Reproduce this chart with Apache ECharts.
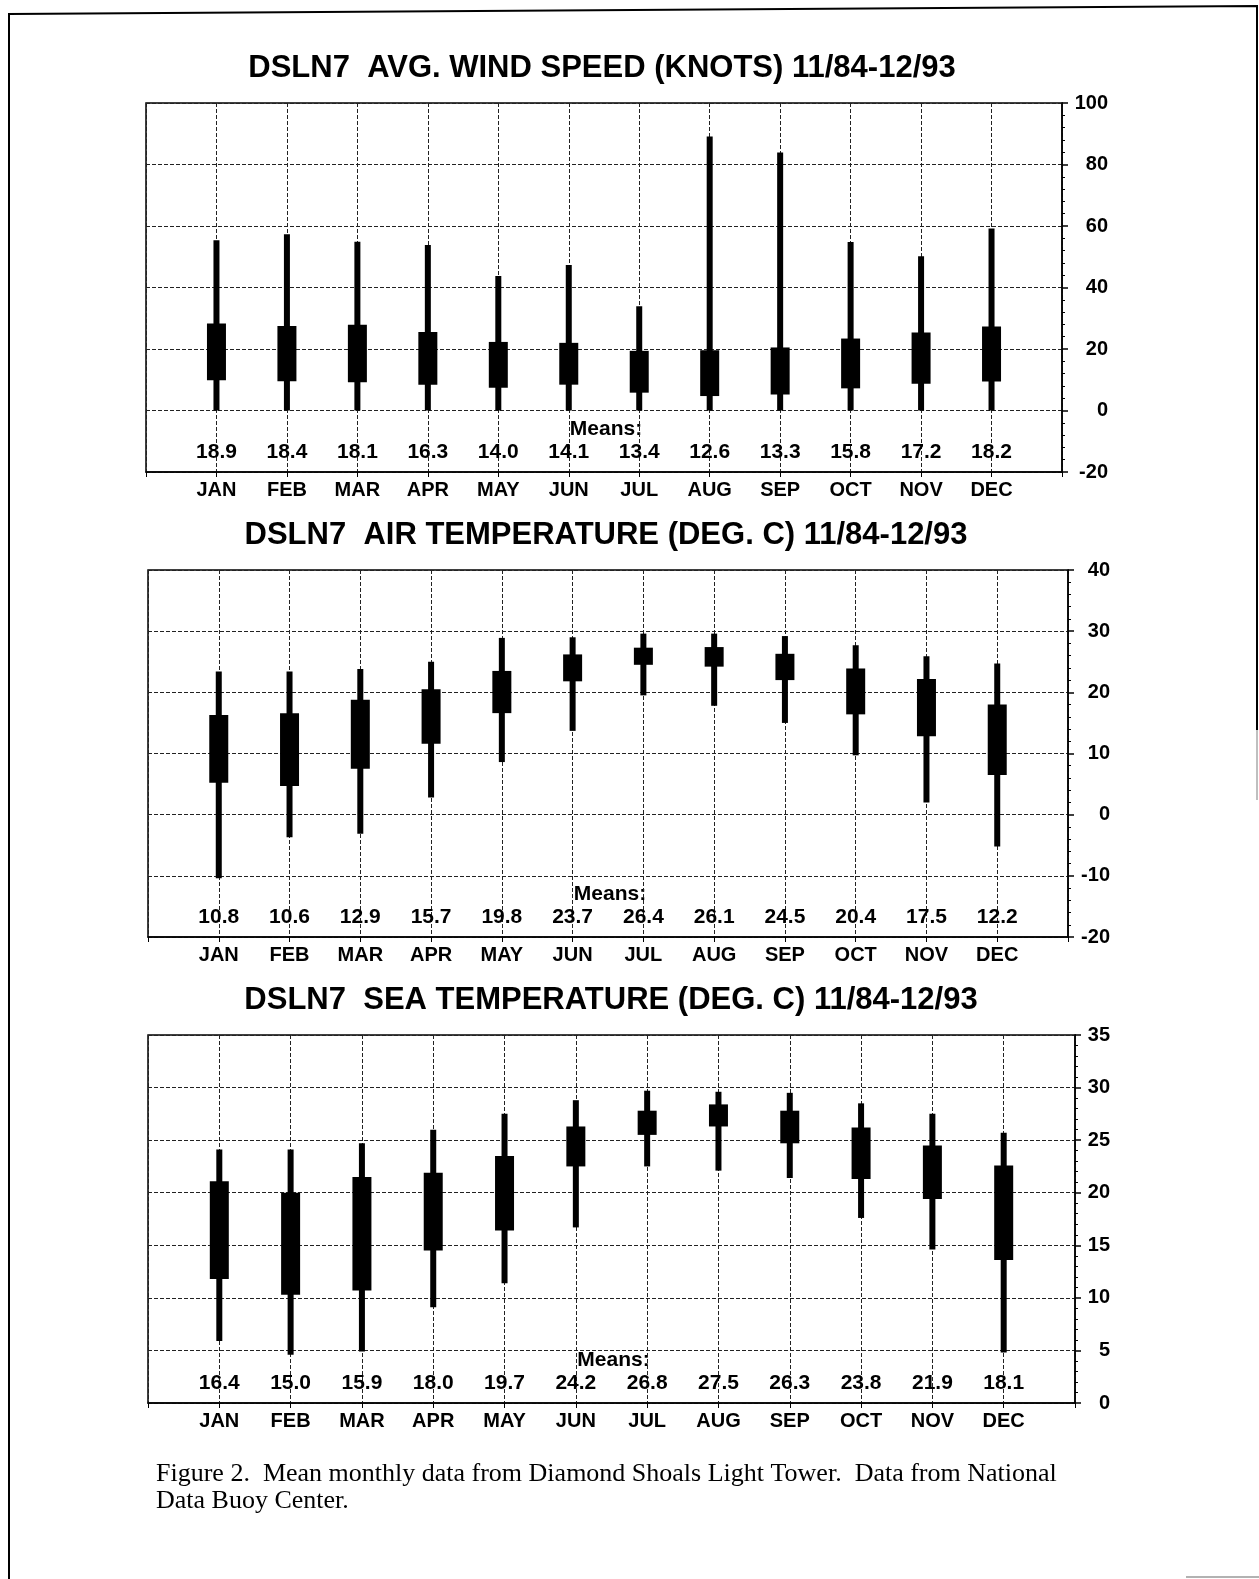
<!DOCTYPE html>
<html><head><meta charset="utf-8">
<script src="https://cdn.jsdelivr.net/npm/echarts@6/dist/echarts.min.js"></script>
<style>html,body{margin:0;padding:0;background:#fff}#c{width:1259px;height:1579px}</style>
</head><body><div id="c"></div><script>
const months = ['JAN','FEB','MAR','APR','MAY','JUN','JUL','AUG','SEP','OCT','NOV','DEC'];

const titles = [
  'DSLN7  AVG. WIND SPEED (KNOTS) 11/84-12/93',
  'DSLN7  AIR TEMPERATURE (DEG. C) 11/84-12/93',
  'DSLN7  SEA TEMPERATURE (DEG. C) 11/84-12/93'
];

// Wind speed (knots)
const windMin   = [0, 0, 0, 0, 0, 0, 0, 0, 0, 0, 0, 0];
const windQ1    = [9.8, 9.5, 9.2, 8.4, 7.4, 8.4, 5.8, 4.7, 5.2, 7.2, 8.7, 9.4];
const windQ3    = [28.3, 27.5, 27.9, 25.5, 22.3, 22.0, 19.4, 19.6, 20.5, 23.4, 25.4, 27.3];
const windMax   = [55.4, 57.3, 54.9, 53.8, 43.7, 47.3, 33.9, 89.1, 83.9, 54.8, 50.2, 59.2];
const windMeans = [18.9, 18.4, 18.1, 16.3, 14.0, 14.1, 13.4, 12.6, 13.3, 15.8, 17.2, 18.2];
const windTicks = [-20, 0, 20, 40, 60, 80, 100];

// Air temperature (deg C)
const airMin   = [-10.4, -3.7, -3.1, 2.8, 8.6, 13.7, 19.5, 17.8, 15.0, 9.7, 2.0, -5.2];
const airQ1    = [5.2, 4.7, 7.5, 11.6, 16.6, 21.8, 24.5, 24.2, 22.0, 16.4, 12.8, 6.5];
const airQ3    = [16.3, 16.6, 18.8, 20.5, 23.5, 26.2, 27.3, 27.4, 26.3, 23.9, 22.2, 18.0];
const airMax   = [23.4, 23.4, 23.8, 25.0, 28.9, 29.0, 29.6, 29.6, 29.2, 27.7, 25.9, 24.7];
const airMeans = [10.8, 10.6, 12.9, 15.7, 19.8, 23.7, 26.4, 26.1, 24.5, 20.4, 17.5, 12.2];
const airTicks = [-20, -10, 0, 10, 20, 30, 40];

// Sea temperature (deg C)
const seaMin   = [5.9, 4.6, 4.9, 9.1, 11.4, 16.7, 22.5, 22.1, 21.4, 17.6, 14.6, 4.8];
const seaQ1    = [11.8, 10.3, 10.7, 14.5, 16.4, 22.5, 25.5, 26.3, 24.7, 21.3, 19.4, 13.6];
const seaQ3    = [21.1, 20.0, 21.5, 21.9, 23.5, 26.3, 27.8, 28.4, 27.8, 26.2, 24.5, 22.6];
const seaMax   = [24.1, 24.1, 24.7, 26.0, 27.5, 28.8, 29.7, 29.6, 29.5, 28.5, 27.5, 25.7];
const seaMeans = [16.4, 15.0, 15.9, 18.0, 19.7, 24.2, 26.8, 27.5, 26.3, 23.8, 21.9, 18.1];
const seaTicks = [0, 5, 10, 15, 20, 25, 30, 35];

const meansLabel = 'Means:';
const caption1 = 'Figure 2.  Mean monthly data from Diamond Shoals Light Tower.  Data from National';
const caption2 = 'Data Buoy Center.';

const SANS = '"Liberation Sans", Arial, Helvetica, sans-serif';
const SERIF = '"Liberation Serif", "Times New Roman", serif';

const sets = [
  {min: windMin, q1: windQ1, q3: windQ3, max: windMax, means: windMeans, ticks: windTicks},
  {min: airMin, q1: airQ1, q3: airQ3, max: airMax, means: airMeans, ticks: airTicks},
  {min: seaMin, q1: seaQ1, q3: seaQ3, max: seaMax, means: seaMeans, ticks: seaTicks}
];

// layout (pixels)
const layouts = [
  {left: 146, top: 103, width: 916, height: 369, labelMargin: 46, titleX: 602, titleY: 68},
  {left: 148, top: 570, width: 920, height: 367, labelMargin: 42, titleX: 606, titleY: 535},
  {left: 148, top: 1035, width: 927, height: 368, labelMargin: 35, titleX: 611, titleY: 1000}
];

const grids = [], xAxes = [], yAxes = [], series = [], graphics = [];
const dash = {color: '#222', width: 1, type: [4, 2]};

sets.forEach((s, k) => {
  const L = layouts[k];
  grids.push({left: L.left, top: L.top, width: L.width, height: L.height,
    show: true, borderColor: '#000', borderWidth: 1.5, backgroundColor: 'transparent'});
  xAxes.push({
    gridIndex: k, type: 'value', min: 0, max: months.length + 1, interval: 1,
    position: 'bottom',
    axisLine: {show: true, onZero: false, lineStyle: {color: '#000', width: 1.5}},
    axisTick: {show: true, length: 5, lineStyle: {color: '#000', width: 1}},
    axisLabel: {show: true, margin: 8, color: '#000', fontFamily: SANS, fontWeight: 'bold', fontSize: 20,
      formatter: v => months[v - 1] || ''},
    splitLine: {show: true, lineStyle: dash}
  });
  const t = s.ticks;
  yAxes.push({
    gridIndex: k, type: 'value', position: 'right',
    min: t[0], max: t[t.length - 1], interval: t[1] - t[0],
    axisLine: {show: true, onZero: false, lineStyle: {color: '#000', width: 1.5}},
    axisTick: {show: true, inside: false, length: 6, lineStyle: {color: '#000', width: 1.5}},
    minorTick: {show: true, splitNumber: 5, length: 3, lineStyle: {color: '#000', width: 1}},
    axisLabel: {show: true, margin: L.labelMargin, align: 'right', color: '#000',
      fontFamily: SANS, fontWeight: 'bold', fontSize: 20},
    splitLine: {show: true, lineStyle: dash}
  });
  const data = months.map((m, i) => [i + 1, s.min[i], s.q1[i], s.q3[i], s.max[i]]);
  series.push({
    type: 'custom', xAxisIndex: k, yAxisIndex: k, name: titles[k],
    encode: {x: 0, y: [1, 2, 3, 4]},
    data: data,
    renderItem: (params, api) => {
      const x = api.value(0);
      const pLo = api.coord([x, api.value(1)]);
      const pQ1 = api.coord([x, api.value(2)]);
      const pQ3 = api.coord([x, api.value(3)]);
      const pHi = api.coord([x, api.value(4)]);
      return {type: 'group', children: [
        {type: 'rect', shape: {x: pHi[0] - 3, y: pHi[1], width: 6, height: pLo[1] - pHi[1]}, style: {fill: '#000'}},
        {type: 'rect', shape: {x: pQ3[0] - 9.5, y: pQ3[1], width: 19, height: pQ1[1] - pQ3[1]}, style: {fill: '#000'}}
      ]};
    }
  });
  series.push({
    type: 'custom', xAxisIndex: k, yAxisIndex: k, name: 'means' + k,
    encode: {x: 0, y: 1},
    data: s.means.map((v, i) => [i + 1, v]),
    renderItem: (params, api) => {
      const p = api.coord([api.value(0), api.value(1)]);
      const cs = params.coordSys;
      return {type: 'text', x: p[0], y: cs.y + cs.height - 20,
        style: {text: api.value(1).toFixed(1), align: 'center', verticalAlign: 'middle',
          font: 'bold 21px ' + SANS, fill: '#000'}};
    }
  });
  graphics.push({type: 'text', x: L.titleX, y: L.titleY,
    style: {text: titles[k], align: 'center', verticalAlign: 'middle', font: 'bold 31px ' + SANS, fill: '#000'}});
  graphics.push({type: 'text', x: L.left + L.width * 6.5 / 13 + 2, y: L.top + L.height - 43,
    style: {text: meansLabel, align: 'center', verticalAlign: 'middle', font: 'bold 21px ' + SANS, fill: '#000'}});
});

graphics.push({type: 'text', x: 156, y: 1474,
  style: {text: caption1, align: 'left', verticalAlign: 'middle', font: '26px ' + SERIF, fill: '#000'}});
graphics.push({type: 'text', x: 156, y: 1501,
  style: {text: caption2, align: 'left', verticalAlign: 'middle', font: '26px ' + SERIF, fill: '#000'}});
graphics.push({type: 'polyline', shape: {points: [[9, 1579], [9, 14], [1257, 6], [1257, 730]]},
  style: {stroke: '#000', lineWidth: 2, fill: null}});
graphics.push({type: 'line', shape: {x1: 1257, y1: 730, x2: 1257, y2: 800},
  style: {stroke: '#aaa', lineWidth: 1.5}});
graphics.push({type: 'line', shape: {x1: 1186, y1: 1577, x2: 1259, y2: 1577},
  style: {stroke: '#999', lineWidth: 1.5}});

const chart = echarts.init(document.getElementById('c'), null, {renderer: 'canvas'});
chart.setOption({
  animation: false,
  backgroundColor: '#fff',
  grid: grids, xAxis: xAxes, yAxis: yAxes, series: series, graphic: graphics
});
</script></body></html>
